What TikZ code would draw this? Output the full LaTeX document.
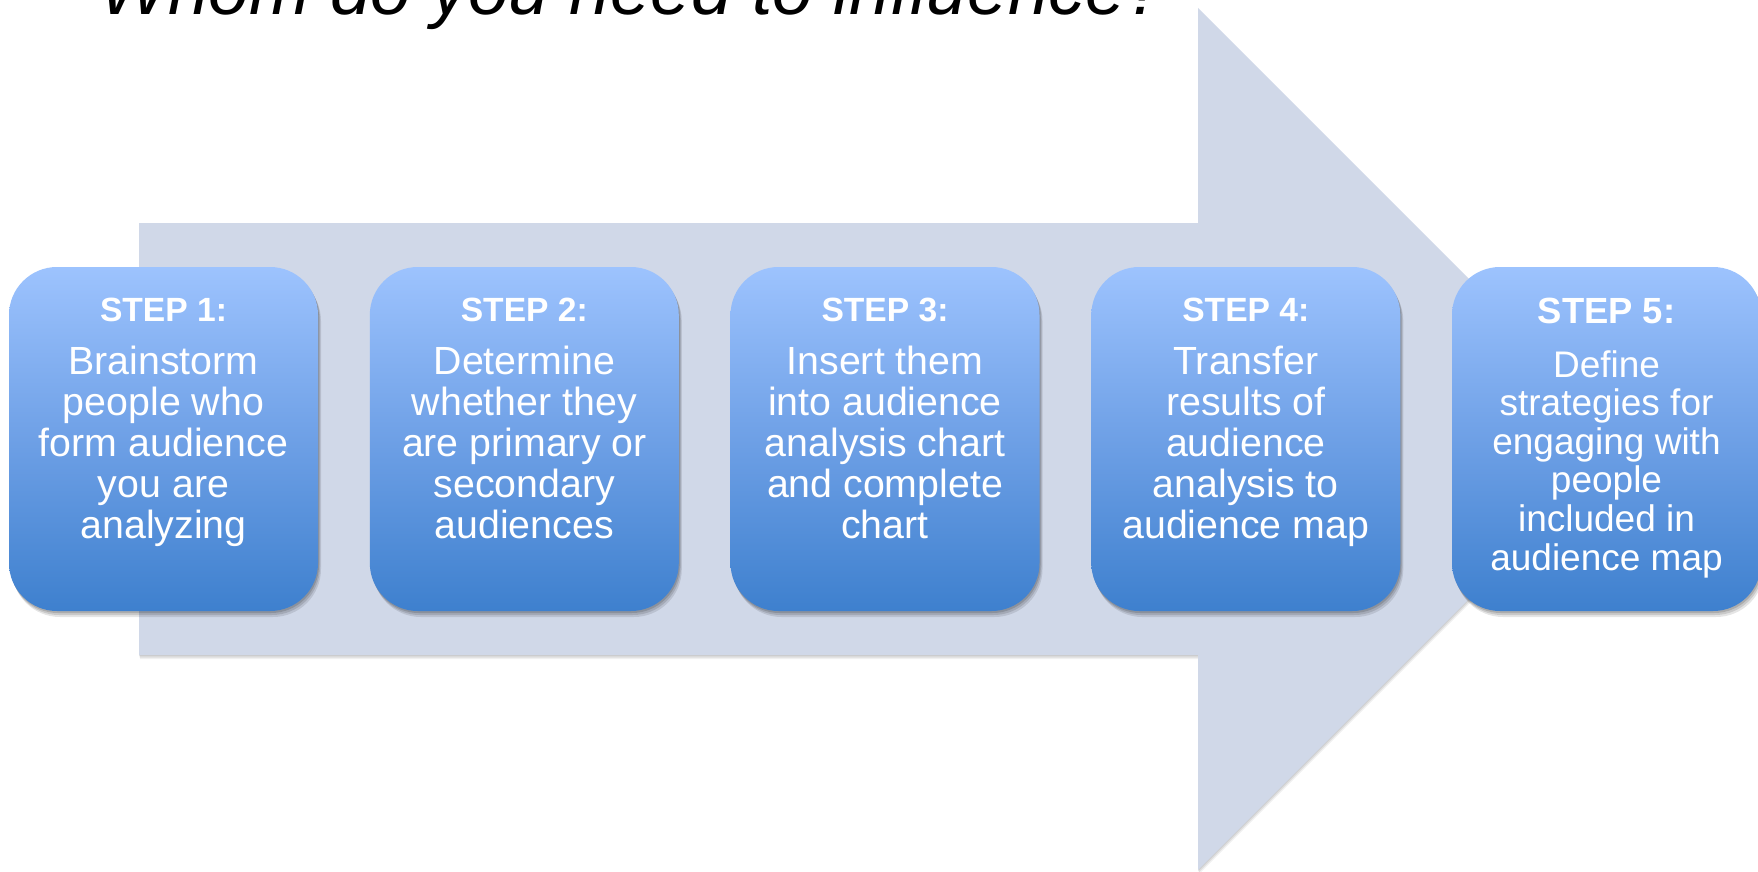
\documentclass[tikz,border=0pt]{standalone}
\usepackage{fontspec}
\setmainfont{Liberation Sans}
\usetikzlibrary{shadows}
\definecolor{arrowfill}{RGB}{208,216,232}
\definecolor{boxtop}{RGB}{157,195,254}
\definecolor{boxmid}{RGB}{110,160,230}
\definecolor{boxbot}{RGB}{62,128,206}
\newcommand\myarrowpath{(139,223) -- (1198,223) -- (1198,8) -- (1629,439) -- (1198,870) -- (1198,655) -- (139,655) -- cycle}
\begin{document}
\begin{tikzpicture}[x=1pt,y=-1pt,
  stepbox/.style={rounded corners=48pt, minimum width=309pt, minimum height=344pt,
    inner sep=0pt, draw=none, top color=boxtop, bottom color=boxbot, middle color=boxmid,
    drop shadow={shadow xshift=3pt,shadow yshift=-6pt,opacity=0.10,fill=black},
    drop shadow={shadow xshift=2pt,shadow yshift=-4pt,opacity=0.12,fill=black},
    drop shadow={shadow xshift=1pt,shadow yshift=-2pt,opacity=0.14,fill=black}},
  steplabel/.style={anchor=base, inner sep=0pt, text=white, font=\bfseries\fontsize{33.6}{40}\selectfont},
  steplabelb/.style={steplabel, font=\bfseries\fontsize{36.4}{42}\selectfont},
  stepbody/.style={anchor=base, inner sep=0pt, text=white, font=\fontsize{39.3}{41.2}\selectfont},
  stepbodyb/.style={stepbody, font=\fontsize{37}{38.6}\selectfont},
  titletext/.style={anchor=base west, inner sep=0pt, text=black, font=\itshape\fontsize{73}{80}\selectfont}]
\useasboundingbox (0,0) rectangle (1758,872);
\fill[white] (0,0) rectangle (1758,872);
% arrow shadow and arrow
\begin{scope}[shift={(1,4)}]\fill[black,opacity=0.06] \myarrowpath;\end{scope}
\begin{scope}[shift={(0.5,2.5)}]\fill[black,opacity=0.08] \myarrowpath;\end{scope}
\begin{scope}[shift={(0,1)}]\fill[black,opacity=0.08] \myarrowpath;\end{scope}
\fill[arrowfill] \myarrowpath;
% title
\node[titletext] (title) at (99,15) {Whom do you need to influence?};
% boxes
\node[stepbox] (b1) at (163.5,439) {};
\node[stepbox] (b2) at (524.3,439) {};
\node[stepbox] (b3) at (885,439) {};
\node[stepbox] (b4) at (1245.8,439) {};
\node[stepbox] (b5) at (1606.5,439) {};
% labels
\node[steplabel] (h1) at (163.5,321) {STEP 1:};
\node[steplabel] (h2) at (524.3,321) {STEP 2:};
\node[steplabel] (h3) at (885,321) {STEP 3:};
\node[steplabel] (h4) at (1245.8,321) {STEP 4:};
\node[steplabelb] (h5) at (1606.5,323) {STEP 5:};
% bodies
\node[stepbody] (d1) at (163.5,374) {\parbox[t]{300pt}{\centering Brainstorm\\people who\\form audience\\you are\\analyzing}};
\node[stepbody] (d2) at (524.3,374) {\parbox[t]{300pt}{\centering Determine\\whether they\\are primary or\\secondary\\audiences}};
\node[stepbody] (d3) at (885,374) {\parbox[t]{300pt}{\centering Insert them\\into audience\\analysis chart\\and complete\\chart}};
\node[stepbody] (d4) at (1245.8,374) {\parbox[t]{300pt}{\centering Transfer\\results of\\audience\\analysis to\\audience map}};
\node[stepbodyb] (d5) at (1606.5,377) {\parbox[t]{300pt}{\centering Define\\strategies for\\engaging with\\people\\included in\\audience map}};
\end{tikzpicture}
\end{document}
